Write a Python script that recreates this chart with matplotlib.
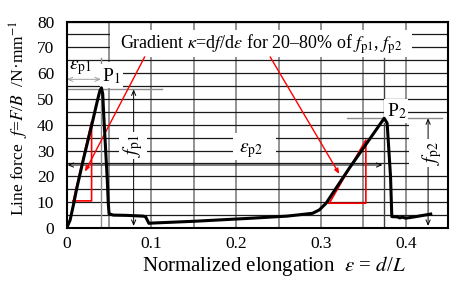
import matplotlib

matplotlib.use("Agg")

import matplotlib.pyplot as plt  # noqa: E402
from matplotlib.patches import Rectangle  # noqa: E402

# force-elongation curve
strain = [0.0, 0.004, 0.008, 0.012, 0.020, 0.030, 0.036, 0.039, 0.041, 0.0425,
          0.044, 0.046, 0.048, 0.049, 0.050, 0.055, 0.070, 0.090, 0.093, 0.097,
          0.100, 0.150, 0.2157, 0.260, 0.290, 0.298, 0.306, 0.333, 0.3745,
          0.378, 0.382, 0.3835, 0.390, 0.393, 0.396, 0.400, 0.410, 0.4294]
force = [0.0, 3.0, 9.0, 15.5, 27.0, 40.5, 49.0, 53.0, 54.3, 52.0,
         42.0, 30.0, 18.0, 10.0, 5.5, 5.0, 4.9, 4.6, 4.4, 1.8,
         1.9, 2.6, 3.75, 4.6, 5.7, 7.0, 9.6, 23.0, 42.5,
         40.6, 19.9, 4.4, 4.3, 3.9, 4.2, 3.8, 4.3, 5.4]

# peaks
eps_p1, f_p1 = 0.0405, 53.7
eps_p2, f_p2 = 0.3745, 42.5

# 20-80 % gradient triangles
tri1_x = [0.0078, 0.0294, 0.0294, 0.0078]
tri1_y = [10.5, 10.5, 41.2, 10.5]
tri2_x = [0.3098, 0.3529, 0.3529, 0.3098]
tri2_y = [9.6, 9.6, 34.1, 9.6]

xticks = [0, 0.1, 0.2, 0.3, 0.4]
xtick_labels = ["0", "0.1", "0.2", "0.3", "0.4"]
yticks = [0, 10, 20, 30, 40, 50, 60, 70, 80]

plt.rcParams["font.family"] = ["Liberation Serif", "DejaVu Serif"]
plt.rcParams["mathtext.fontset"] = "stix"

fig = plt.figure(figsize=(4.63, 2.86), dpi=100)
ax = fig.add_axes((0.144, 0.2028, 0.824, 0.722))
ax.set_xlim(0, 0.45)
ax.set_ylim(0, 80)

ax.set_xticks(xticks, xtick_labels)
ax.set_yticks(yticks)
ax.set_xticks([0.05 * i for i in range(10)], minor=True)
ax.set_yticks(list(range(0, 81, 5)), minor=True)
ax.tick_params(which="both", length=0, labelsize=12.5)
ax.tick_params(axis="y", pad=9)
ax.tick_params(axis="x", pad=6)
ax.xaxis.grid(True, which="both", color="#808080", lw=1.2, zorder=0)
ax.yaxis.grid(True, which="both", color="#1a1a1a", lw=0.9, zorder=0)
ax.set_axisbelow(True)
for s in ax.spines.values():
    s.set_linewidth(1.5)
    s.set_zorder(6)

# white boxes that hide the grid behind labels
boxes = [
    (0.051, 66.3, 0.3564, 10.4),   # gradient note
    (0.001, 58.5, 0.064, 5.8),     # eps_p1 / P1
    (0.375, 43.6, 0.025, 3.0),     # P2
    (0.196, 26.4, 0.051, 10.4),    # eps_p2
    (0.4035, 23.3, 0.046, 18.6),   # f_p2
]
for bx, by, bw, bh in boxes:
    ax.add_patch(Rectangle((bx, by), bw, bh, facecolor="white",
                           edgecolor="none", zorder=1))

gray = "#8c8c8c"
# peak marker lines
ax.plot([eps_p1, eps_p1], [0, 66], color=gray, lw=1.0, zorder=2)
ax.plot([0, 0.112], [f_p1, f_p1], color=gray, lw=1.0, zorder=2)
ax.plot([eps_p2, eps_p2], [0, 66], color="#404040", lw=1.0, zorder=2)
ax.plot([0.331, 0.443], [f_p2, f_p2], color=gray, lw=1.0, zorder=2)

arr = dict(arrowstyle="<->,head_length=0.35,head_width=0.15", lw=0.7,
           shrinkA=0, shrinkB=0)
ax.annotate("", xy=(0, 57.6), xytext=(eps_p1, 57.6),
            arrowprops=dict(arr, color="#a0a0a0"), zorder=2)
ax.annotate("", xy=(0.079, f_p1), xytext=(0.079, 0.8),
            arrowprops=dict(arr, color="black"), zorder=2)
ax.annotate("", xy=(0.001, 24.4), xytext=(0.3725, 24.4),
            arrowprops=dict(arr, color="black"), zorder=2)
ax.annotate("", xy=(0.4263, f_p2), xytext=(0.4263, 0.8),
            arrowprops=dict(arr, color="black"), zorder=2)

# labels
wbox = dict(facecolor="white", edgecolor="none", pad=1.5)
ax.text(0.229, 71.2,
        r"Gradient $\kappa$=d$f$/d$\varepsilon$ for 20–80% of "
        r"$f_{\mathrm{p1}}$, $f_{\mathrm{p2}}$",
        fontsize=13, ha="center", va="center", zorder=3)
ax.text(0.016, 62.3, r"$\varepsilon_{\mathrm{p1}}$", fontsize=14,
        ha="center", va="center", zorder=3)
ax.text(0.0525, 58.8, r"P$_1$", fontsize=14, ha="center", va="center",
        bbox=wbox, zorder=3)
ax.text(0.389, 45.2, r"P$_2$", fontsize=14, ha="center", va="center",
        bbox=wbox, zorder=3)
ax.text(0.078, 32.0, r"$f_{\mathrm{p1}}$", fontsize=14, rotation=90,
        ha="center", va="center", bbox=wbox, zorder=3)
ax.text(0.217, 30.0, r"$\varepsilon_{\mathrm{p2}}$", fontsize=14,
        ha="center", va="center", zorder=3)
ax.text(0.431, 29.0, r"$f_{\mathrm{p2}}$", fontsize=14, rotation=90,
        ha="center", va="center", bbox=wbox, zorder=3)

# red gradient triangles and pointers
ax.plot(tri1_x, tri1_y, color="red", lw=1.2, zorder=4)
ax.plot(tri2_x, tri2_y, color="red", lw=1.2, zorder=4)
red_arr = dict(arrowstyle="-|>,head_length=0.3,head_width=0.12",
               color="red", lw=1.0, shrinkA=0, shrinkB=0)
ax.annotate("", xy=(0.0216, 21.8), xytext=(0.092, 66.3),
            arrowprops=red_arr, zorder=4)
ax.annotate("", xy=(0.3216, 20.9), xytext=(0.240, 66.3),
            arrowprops=red_arr, zorder=4)

ax.plot(strain, force, color="black", lw=2.2, zorder=5)

ax.set_xlabel(r"Normalized elongation  $\varepsilon$ = $d$/$L$", fontsize=15)
ax.xaxis.set_label_coords(0.543, -0.125)
fig.text(19.5 / 463, 1 - 118 / 286,
         r"Line force  $f$=$F$/$B$  /N·mm$^{-1}$",
         fontsize=12.5, rotation=90, ha="center", va="center")

fig.savefig("out.png", dpi=100)
